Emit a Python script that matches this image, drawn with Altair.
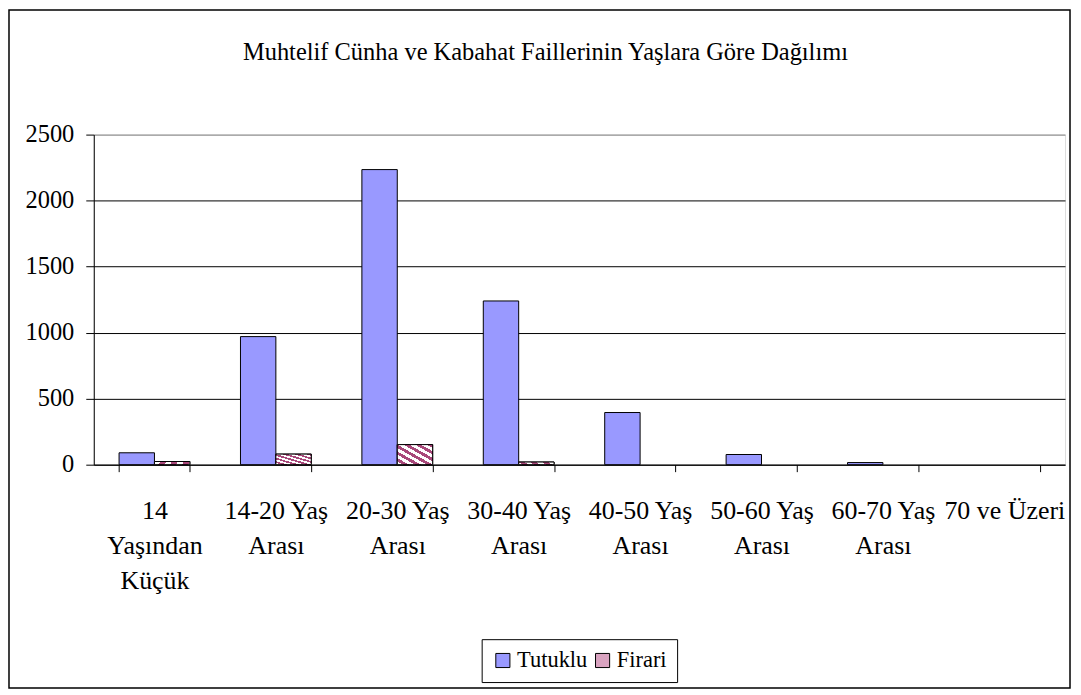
import altair as alt
import pandas as pd

categories = [
    "14\nYaşından\nKüçük",
    "14-20 Yaş\nArası",
    "20-30 Yaş\nArası",
    "30-40 Yaş\nArası",
    "40-50 Yaş\nArası",
    "50-60 Yaş\nArası",
    "60-70 Yaş\nArası",
    "70 ve Üzeri",
]
series_names = ["Tutuklu", "Firari"]
tutuklu = [90, 970, 2235, 1240, 395, 77, 16, 0]
firari = [24, 80, 152, 20, 0, 0, 0, 0]
y_ticks = [0, 500, 1000, 1500, 2000, 2500]
title_text = "Muhtelif Cünha ve Kabahat Faillerinin Yaşlara Göre Dağılımı"

rows = []
for c, t, f in zip(categories, tutuklu, firari):
    rows.append({"kategori": c, "seri": series_names[0], "deger": t})
    rows.append({"kategori": c, "seri": series_names[1], "deger": f})
df = pd.DataFrame(rows)

FONT = "Liberation Serif, Times New Roman, DejaVu Serif, serif"
W, H = 974, 331

# hatch-like gradient for Firari
hatch_color = "#a8487a"
stops = []
N = 6
for k in range(N):
    a = k / N
    b = (k + 0.5) / N
    c2 = (k + 1) / N
    stops += [
        {"offset": a, "color": "#ffffff"},
        {"offset": b, "color": "#ffffff"},
        {"offset": b, "color": hatch_color},
        {"offset": c2, "color": hatch_color},
    ]
hatch = alt.LinearGradient(gradient="linear", stops=stops, x1=0, y1=1, x2=1, y2=0)

x_enc = alt.X(
    "kategori:N",
    sort=categories,
    scale=alt.Scale(domain=categories, paddingInner=0.417, paddingOuter=0.2085),
    axis=alt.Axis(
        title=None,
        labelAngle=0,
        labelExpr="split(datum.label, '\\n')",
        labelFont=FONT,
        labelFontSize=26,
        labelLineHeight=35,
        labelPadding=26,
        labelColor="black",
        labelOverlap=False,
        labelLimit=300,
        tickBand="extent",
        tickSize=7,
        tickColor="black",
        domainColor="black",
        grid=False,
    ),
)
xoff_enc = alt.XOffset("seri:N", sort=series_names, scale=alt.Scale(domain=series_names))
y_enc = alt.Y(
    "deger:Q",
    scale=alt.Scale(domain=[0, 2500], nice=False),
    axis=alt.Axis(
        title=None,
        values=y_ticks,
        format="d",
        labelFont=FONT,
        labelFontSize=24.5,
        labelColor="black",
        labelPadding=12,
        tickSize=8,
        tickColor="black",
        domainColor="black",
        grid=True,
        gridColor={"condition": {"test": "datum.value == 2500", "value": "#808080"}, "value": "black"},
        gridWidth=1,
    ),
)

bars = (
    alt.Chart(df)
    .transform_filter(alt.datum.deger > 0)
    .mark_bar(stroke="black", strokeWidth=1)
    .encode(
        x=x_enc,
        xOffset=xoff_enc,
        y=y_enc,
        color=alt.Color(
            "seri:N",
            sort=series_names,
            scale=alt.Scale(domain=series_names, range=["#9999ff", "#d9a3c0"]),
            legend=alt.Legend(
                title=None,
                orient="none",
                legendX=389,
                legendY=506,
                direction="horizontal",
                strokeColor="black",
                fillColor="white",
                padding=10,
                labelFont=FONT,
                labelFontSize=22.5,
                labelColor="black",
                symbolType="square",
                symbolSize=200,
                symbolStrokeColor="black",
                symbolStrokeWidth=1,
                symbolOpacity=1,
                columnPadding=4,
                labelOffset=3,
            ),
        ),
    )
)

firari_bars = (
    alt.Chart(df)
    .transform_filter((alt.datum.seri == "Firari") & (alt.datum.deger > 0))
    .mark_bar(stroke="black", strokeWidth=1, fill=hatch)
    .encode(x=x_enc, xOffset=xoff_enc, y=y_enc)
)

border = (
    alt.Chart(alt.Data(values=[{}]))
    .mark_rect(filled=False, stroke="black", strokeWidth=1.5)
    .encode(
        x=alt.value(-85), x2=alt.value(979), y=alt.value(-125), y2=alt.value(555)
    )
)

title = (
    alt.Chart(alt.Data(values=[{"t": title_text}]))
    .mark_text(font=FONT, fontSize=24.5, color="black", align="center", baseline="middle")
    .encode(text="t:N", x=alt.value(453), y=alt.value(-82))
)

chart = (
    alt.layer(border, bars, firari_bars, title)
    .properties(
        width=W,
        height=H,
        padding={"left": 86, "top": 126, "right": 8, "bottom": 225},
        autosize=alt.AutoSizeParams(type="none"),
    )
    .configure_view(stroke="#808080", strokeWidth=1, fill="#c0c0c0")
    .configure(background="white")
)

chart.save("out.html", embed_options={"renderer": "svg", "actions": False})
